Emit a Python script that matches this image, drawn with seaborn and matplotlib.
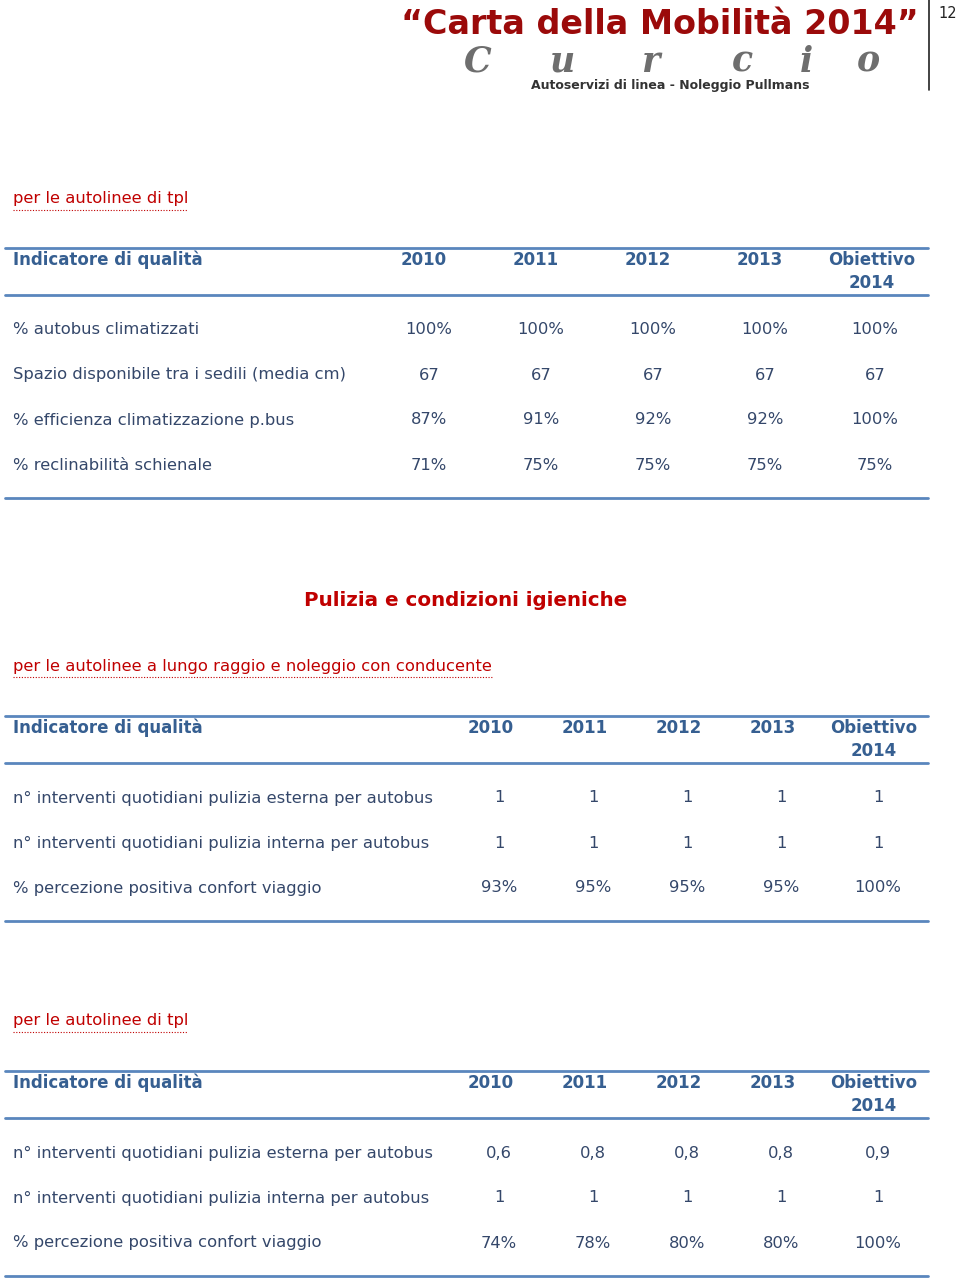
import matplotlib
matplotlib.use("Agg")
import matplotlib.pyplot as plt
import seaborn as sns

sns.set_theme(style="white")
plt.rcParams['font.family'] = ['DejaVu Sans']

# --- data -------------------------------------------------------------
title = "\u201cCarta della Mobilità 2014\u201d"
page_no = "12"
logo_sub = "Autoservizi di linea - Noleggio Pullmans"
section_title = "Pulizia e condizioni igieniche"

header_cols = ["2010", "2011", "2012", "2013", "Obiettivo\n2014"]

t1_caption = "per le autolinee di tpl"
t1_rows = ["% autobus climatizzati",
           "Spazio disponibile tra i sedili (media cm)",
           "% efficienza climatizzazione p.bus",
           "% reclinabilità schienale"]
t1_vals = [["100%", "100%", "100%", "100%", "100%"],
           ["67", "67", "67", "67", "67"],
           ["87%", "91%", "92%", "92%", "100%"],
           ["71%", "75%", "75%", "75%", "75%"]]

t2_caption = "per le autolinee a lungo raggio e noleggio con conducente"
t2_rows = ["n° interventi quotidiani pulizia esterna per autobus",
           "n° interventi quotidiani pulizia interna per autobus",
           "% percezione positiva confort viaggio"]
t2_vals = [["1", "1", "1", "1", "1"],
           ["1", "1", "1", "1", "1"],
           ["93%", "95%", "95%", "95%", "100%"]]

t3_caption = "per le autolinee di tpl"
t3_rows = t2_rows
t3_vals = [["0,6", "0,8", "0,8", "0,8", "0,9"],
           ["1", "1", "1", "1", "1"],
           ["74%", "78%", "80%", "80%", "100%"]]

# --- style ------------------------------------------------------------
RED = "#c00000"
DARKRED = "#9b0a0a"
HEAD = "#365f91"
BODY = "#34476a"
RULE = "#5a86bd"
FS = 11.8
FSB = 12.0

fig = plt.figure(figsize=(9.6, 12.81), dpi=100)
ax = fig.add_axes([0, 0, 1, 1])
ax.set_xlim(0, 960)
ax.set_ylim(1281, 0)
ax.axis("off")

# page header
ax.text(660, 24, title, ha="center", va="center", fontsize=24,
        fontweight="bold", color=DARKRED)
for ch, x in zip("Curcio", [478, 562, 650, 742, 806, 868]):
    ax.text(x, 62, ch, ha="center", va="center", fontsize=25,
            fontstyle="italic", fontweight="bold", color="#6e6e6e",
            family=['DejaVu Serif'])
ax.text(670, 85, logo_sub, ha="center", va="center", fontsize=9,
        fontweight="bold", color="#333333")
ax.plot([929, 929], [0, 90], color="#222222", lw=1.2)
ax.text(948, 14, page_no, ha="center", va="center", fontsize=10.5, color="#222222")


def caption(y, text):
    t = ax.text(13, y, text, ha="left", va="center", fontsize=FS, color=RED)
    fig.canvas.draw()
    bb = t.get_window_extent().transformed(ax.transData.inverted())
    ax.plot([bb.x0, bb.x1], [y + 11, y + 11], color=RED, lw=0.8, ls=(0, (1, 1.5)))


def table(y_top, val_x, head_x, rows, vals):
    ax.plot([5, 928], [y_top, y_top], color=RULE, lw=2)
    ax.text(13, y_top + 12, "Indicatore di qualità", ha="left", va="center",
            fontsize=FSB, fontweight="bold", color=HEAD)
    for x, h in zip(head_x, header_cols):
        for k, line in enumerate(h.split("\n")):
            ax.text(x, y_top + 12 + 23 * k, line, ha="center", va="center",
                    fontsize=FSB, fontweight="bold", color=HEAD)
    ax.plot([5, 928], [y_top + 47, y_top + 47], color=RULE, lw=2)
    y = y_top + 82
    for name, row in zip(rows, vals):
        ax.text(13, y, name, ha="left", va="center", fontsize=FS, color=BODY)
        for x, v in zip(val_x, row):
            ax.text(x, y, v, ha="center", va="center", fontsize=FS, color=BODY)
        y += 45
    ax.plot([5, 928], [y - 12, y - 12], color=RULE, lw=2)


caption(199, t1_caption)
table(248, [429, 541, 653, 765, 875], [424, 536, 648, 760, 872], t1_rows, t1_vals)

ax.text(466, 601, section_title, ha="center", va="center", fontsize=14.3,
        fontweight="bold", color=RED)

caption(666, t2_caption)
table(716, [499, 593, 687, 781, 878], [491, 585, 679, 773, 874], t2_rows, t2_vals)

caption(1021, t3_caption)
table(1071, [499, 593, 687, 781, 878], [491, 585, 679, 773, 874], t3_rows, t3_vals)

fig.savefig("out.png", dpi=100)
